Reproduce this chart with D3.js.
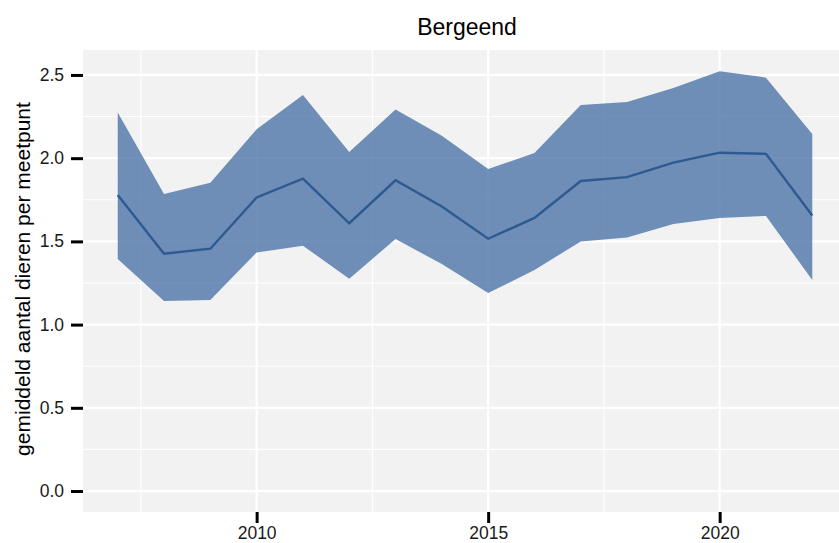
<!DOCTYPE html>
<html><head><meta charset="utf-8">
<script src="https://cdn.jsdelivr.net/npm/d3@7"></script>
<style>body{margin:0;background:#fff}svg{display:block;font-family:"Liberation Sans",Arial,sans-serif}</style>
</head><body><svg id="c" width="839" height="543"></svg>
<script>
const years = [2007,2008,2009,2010,2011,2012,2013,2014,2015,2016,2017,2018,2019,2020,2021,2022];
const meanVals = [1.779,1.426,1.456,1.764,1.877,1.609,1.867,1.710,1.516,1.641,1.863,1.886,1.973,2.033,2.026,1.655];
const upperVals = [2.274,1.785,1.853,2.174,2.380,2.037,2.292,2.135,1.935,2.031,2.320,2.338,2.421,2.522,2.484,2.145];
const lowerVals = [1.394,1.142,1.148,1.434,1.474,1.276,1.514,1.364,1.190,1.328,1.500,1.524,1.605,1.641,1.653,1.268];
const yTicks = [0,0.5,1.0,1.5,2.0,2.5];
const yMinor = [0.25,0.75,1.25,1.75,2.25];
const xTicks = [2010,2015,2020];
const xMinor = [2007.5,2012.5,2017.5];
const title = "Bergeend";
const yLabel = "gemiddeld aantal dieren per meetpunt";

const svg = d3.select("#c");
const panel = {left:83, right:847, top:50, bottom:512};
const x = d3.scaleLinear().domain([2006.25,2022.75]).range([panel.left, panel.right]);
const y = d3.scaleLinear().domain([-0.126,2.65]).range([panel.bottom, panel.top]);

svg.append("defs").append("clipPath").attr("id","pc").append("rect")
  .attr("x",panel.left).attr("y",panel.top).attr("width",panel.right-panel.left).attr("height",panel.bottom-panel.top);

svg.append("rect").attr("x",panel.left).attr("y",panel.top)
  .attr("width",panel.right-panel.left).attr("height",panel.bottom-panel.top).attr("fill","#f2f2f2");

const g = svg.append("g").attr("clip-path","url(#pc)");
g.selectAll(".ymin").data(yMinor).join("line").attr("x1",panel.left).attr("x2",panel.right)
  .attr("y1",d=>y(d)).attr("y2",d=>y(d)).attr("stroke","#fff").attr("stroke-width",1.1);
g.selectAll(".xmin").data(xMinor).join("line").attr("y1",panel.top).attr("y2",panel.bottom)
  .attr("x1",d=>x(d)).attr("x2",d=>x(d)).attr("stroke","#fff").attr("stroke-width",1.1);
g.selectAll(".ymaj").data(yTicks).join("line").attr("x1",panel.left).attr("x2",panel.right)
  .attr("y1",d=>y(d)).attr("y2",d=>y(d)).attr("stroke","#fff").attr("stroke-width",2.2);
g.selectAll(".xmaj").data(xTicks).join("line").attr("y1",panel.top).attr("y2",panel.bottom)
  .attr("x1",d=>x(d)).attr("x2",d=>x(d)).attr("stroke","#fff").attr("stroke-width",2.2);

const data = years.map((yr,i)=>({yr, m:meanVals[i], lo:lowerVals[i], hi:upperVals[i]}));
g.append("path").datum(data)
  .attr("d", d3.area().x(d=>x(d.yr)).y0(d=>y(d.lo)).y1(d=>y(d.hi)))
  .attr("fill","#3a66a0").attr("fill-opacity",0.72);
g.append("path").datum(data)
  .attr("d", d3.line().x(d=>x(d.yr)).y(d=>y(d.m)))
  .attr("fill","none").attr("stroke","#2d5a91").attr("stroke-width",2.4);

// y axis
const ya = svg.append("g").attr("transform",`translate(${panel.left},0)`)
  .call(d3.axisLeft(y).tickValues(yTicks).tickFormat(d3.format(".1f")).tickSize(12).tickPadding(7));
ya.select(".domain").remove();
ya.selectAll(".tick line").attr("stroke","#000").attr("stroke-width",3);
ya.selectAll(".tick text").attr("font-size",17.5).attr("fill","#1a1a1a").attr("font-family","Liberation Sans, Arial, sans-serif");

// x axis
const xa = svg.append("g").attr("transform",`translate(0,${panel.bottom})`)
  .call(d3.axisBottom(x).tickValues(xTicks).tickFormat(d3.format("d")).tickSize(11).tickPadding(5));
xa.select(".domain").remove();
xa.selectAll(".tick line").attr("stroke","#000").attr("stroke-width",3);
xa.selectAll(".tick text").attr("font-size",17.5).attr("fill","#1a1a1a").attr("font-family","Liberation Sans, Arial, sans-serif")
  .attr("y",27).attr("dy",0);

svg.append("text").attr("x",467).attr("y",35).attr("text-anchor","middle")
  .attr("font-size",23).attr("fill","#000").text(title);
svg.append("text").attr("transform",`translate(30,279) rotate(-90)`)
  .attr("text-anchor","middle").attr("font-size",21).attr("fill","#000").text(yLabel);
</script></body></html>
